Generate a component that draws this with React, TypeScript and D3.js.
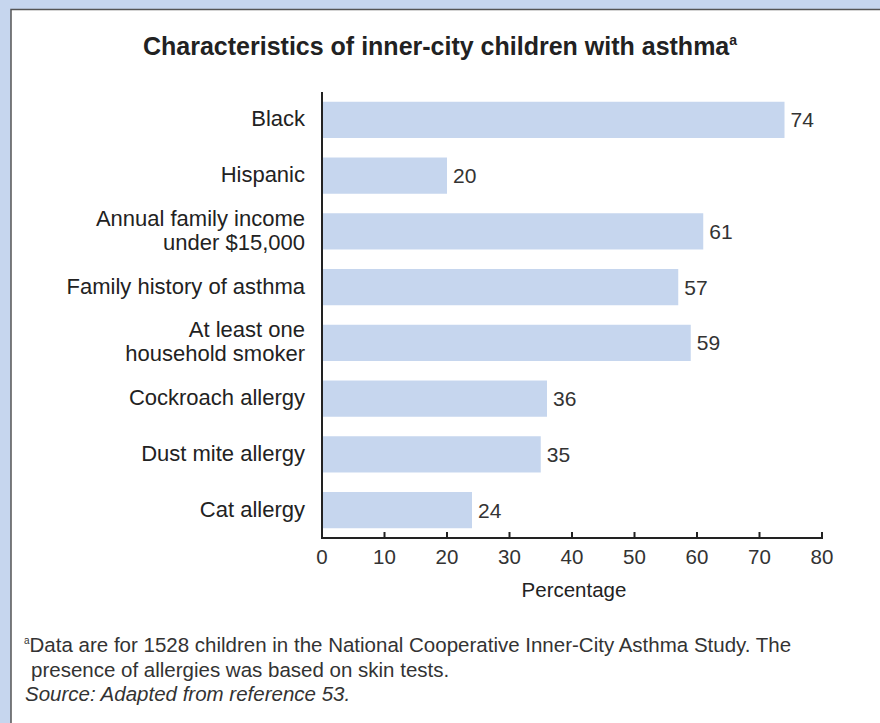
import * as d3 from "d3"

const categories = [
  ["Black"],
  ["Hispanic"],
  ["Annual family income", "under $15,000"],
  ["Family history of asthma"],
  ["At least one", "household smoker"],
  ["Cockroach allergy"],
  ["Dust mite allergy"],
  ["Cat allergy"],
]
const values = [74, 20, 61, 57, 59, 36, 35, 24]
const xTicks = [0, 10, 20, 30, 40, 50, 60, 70, 80]

const W = 880
const H = 723
const FONT = "'Liberation Sans', Arial, Helvetica, sans-serif"

export default function App() {
  const keys = categories.map((c) => c.join(" "))
  const x = d3.scaleLinear().domain([0, 80]).range([322, 822])
  const y = d3.scaleBand()
    .domain(keys)
    .range([92, 538])
    .paddingInner(0.35)
    .paddingOuter(0.175)

  const axisY = 538

  return (
    <svg
      width={W}
      height={H}
      style={{ position: "absolute", left: 0, top: 0, display: "block" }}
      fontFamily={FONT}
    >
      <rect x={0} y={0} width={W} height={H} fill="#c6d6ee" />
      <rect x={11} y={9.5} width={W + 20} height={H + 20} fill="#fff" stroke="#555" strokeWidth={1.5} />

      {/* title */}
      <text x={143} y={55} fontSize={25} fontWeight="bold" fill="#222">
        Characteristics of inner-city children with asthma
        <tspan fontSize={14} dy={-10}>a</tspan>
      </text>

      {/* bars */}
      {values.map((v, i) => (
        <rect
          key={keys[i]}
          x={x(0)}
          y={y(keys[i])}
          width={x(v) - x(0)}
          height={y.bandwidth()}
          fill="#c6d6ee"
        />
      ))}

      {/* value labels */}
      {values.map((v, i) => (
        <text
          key={"v" + i}
          x={x(v) + 6}
          y={(y(keys[i]) || 0) + y.bandwidth() / 2 + 7.5}
          fontSize={21}
          fill="#333"
        >
          {v}
        </text>
      ))}

      {/* category labels, two-line ones drawn as separate texts */}
      {categories.map((lines, i) => {
        const cy = (y(keys[i]) || 0) + y.bandwidth() / 2
        const lh = 24
        const start = cy - ((lines.length - 1) * lh) / 2 + 6.5
        return lines.map((l, j) => (
          <text
            key={"c" + i + "-" + j}
            x={305}
            y={start + j * lh}
            textAnchor="end"
            fontSize={22}
            fill="#222"
          >
            {l}
          </text>
        ))
      })}

      {/* axes */}
      <line x1={x(0)} x2={x(0)} y1={92} y2={axisY + 1} stroke="#222" strokeWidth={2} />
      <line x1={x(0) - 1} x2={x(80) + 1} y1={axisY} y2={axisY} stroke="#222" strokeWidth={2} />
      {xTicks.map((t) => (
        <g key={t}>
          <line x1={x(t)} x2={x(t)} y1={axisY} y2={axisY - 6} stroke="#222" strokeWidth={2} />
          <text x={x(t)} y={axisY + 25.5} textAnchor="middle" fontSize={20.5} fill="#333">
            {t}
          </text>
        </g>
      ))}
      <text x={574} y={597} textAnchor="middle" fontSize={20.5} fill="#222">
        Percentage
      </text>

      {/* footnote */}
      <text x={24} y={652} fontSize={20.5} fill="#333">
        <tspan fontSize={10} dy={-8}>a</tspan>
        <tspan dy={8}>Data are for 1528 children in the National Cooperative Inner-City Asthma Study. The</tspan>
      </text>
      <text x={31} y={676.5} fontSize={20.5} fill="#333">
        presence of allergies was based on skin tests.
      </text>
      <text x={25} y={701} fontSize={20.5} fill="#333" fontStyle="italic">
        Source: Adapted from reference 53.
      </text>
    </svg>
  )
}
